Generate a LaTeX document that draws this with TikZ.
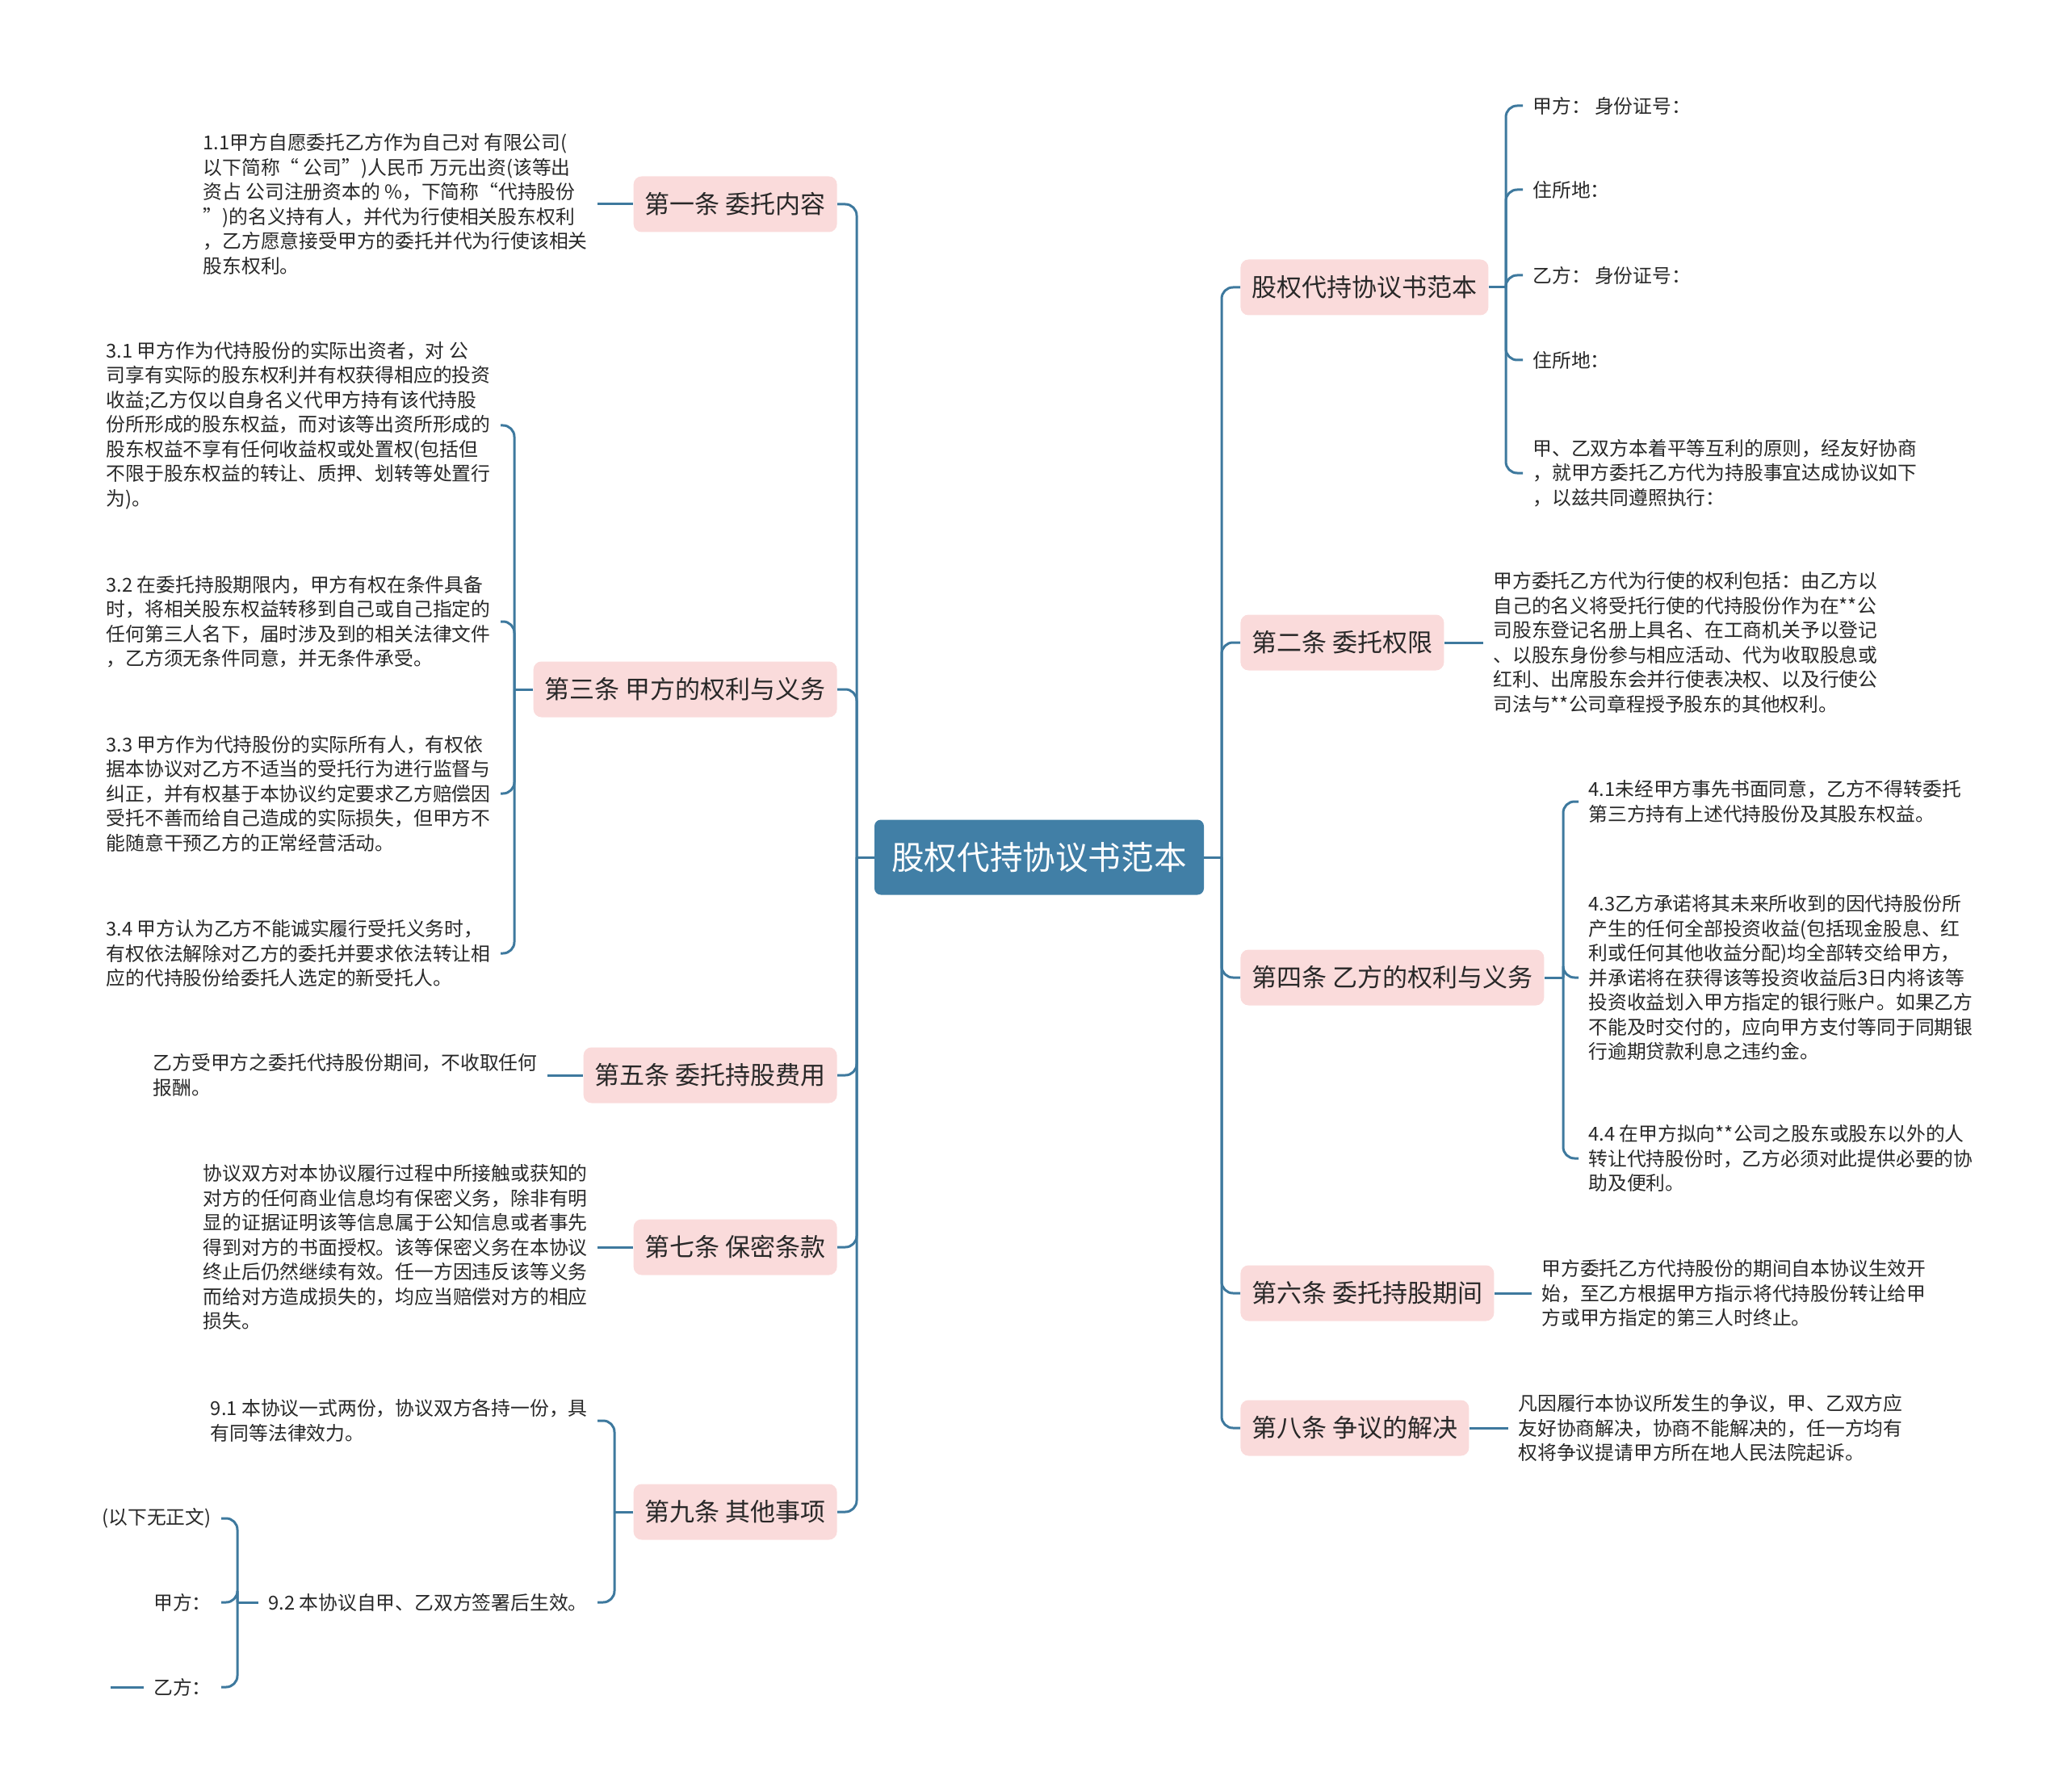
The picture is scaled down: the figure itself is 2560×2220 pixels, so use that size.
\documentclass[tikz,border=0pt]{standalone}
\usepackage{fontspec}
\setmainfont{Noto Sans CJK SC}
\usepackage{tikz}
\usepackage{xcolor}
\definecolor{trunkblue}{RGB}{62,121,158}
\definecolor{rootblue}{RGB}{65,127,166}
\definecolor{topicpink}{RGB}{250,219,219}
\definecolor{leafgray}{RGB}{40,40,40}

\begin{document}
\begin{tikzpicture}[
  x=0.5pt, y=-0.5pt,
  every node/.style={text=leafgray},
  rootbox/.style={fill=rootblue, text=white, rounded corners=4pt, minimum width=204pt,
                  minimum height=46.5pt, font=\fontsize{20.3}{24}\selectfont},
  topicbox/.style={fill=topicpink, rounded corners=5pt, minimum height=34.5pt, inner xsep=7pt,
                   font=\fontsize{15.5}{18}\selectfont},
  topicL/.style={topicbox, anchor=east},
  topicR/.style={topicbox, anchor=west},
  leaftext/.style={align=left, inner xsep=6pt, inner ysep=2pt, font=\fontsize{11.9}{15.25}\selectfont},
  leafL/.style={leaftext, anchor=east},
  leafR/.style={leaftext, anchor=west},
  conn/.style={draw=trunkblue, line width=1.5pt, rounded corners=7pt}
]
\useasboundingbox (0,0) rectangle (2560,2220);

%% Root
\node[rootbox] (root) at (1287,1062) {股权代持协议书范本};
\coordinate (lj) at (1061,1062);
\coordinate (rj) at (1513,1062);
\draw[conn] (root.west) -- (lj);
\draw[conn] (root.east) -- (rj);

%% Left topics
\node[topicL] (b1) at (1037,253) {第一条 委托内容};
\node[topicL] (b3) at (1037,854) {第三条 甲方的权利与义务};
\node[topicL] (b5) at (1037,1332) {第五条 委托持股费用};
\node[topicL] (b7) at (1037,1545) {第七条 保密条款};
\node[topicL] (b9) at (1037,1873) {第九条 其他事项};
\draw[conn] (b1.east) -| (lj);
\draw[conn] (b3.east) -| (lj);
\draw[conn] (b5.east) -| (lj);
\draw[conn] (b7.east) -| (lj);
\draw[conn] (b9.east) -| (lj);

%% Right topics
\node[topicR] (r0) at (1536,356) {股权代持协议书范本};
\node[topicR] (b2) at (1536,796) {第二条 委托权限};
\node[topicR] (b4) at (1536,1211) {第四条 乙方的权利与义务};
\node[topicR] (b6) at (1536,1602) {第六条 委托持股期间};
\node[topicR] (b8) at (1536,1769) {第八条 争议的解决};
\draw[conn] (r0.west) -| (rj);
\draw[conn] (b2.west) -| (rj);
\draw[conn] (b4.west) -| (rj);
\draw[conn] (b6.west) -| (rj);
\draw[conn] (b8.west) -| (rj);

%% 第一条
\node[leafL] (l11) at (740,253) {1.1甲方自愿委托乙方作为自己对 有限公司(\\
以下简称“ 公司”)人民币 万元出资(该等出\\
资占 公司注册资本的 \%，下简称“代持股份\\
”)的名义持有人，并代为行使相关股东权利\\
，乙方愿意接受甲方的委托并代为行使该相关\\
股东权利。};
\draw[conn] (l11.east) -- (b1.west);

%% 第三条
\coordinate (j3) at (637,854);
\draw[conn] (b3.west) -- (j3);
\node[leafL] (l31) at (620,527) {3.1 甲方作为代持股份的实际出资者，对 公\\
司享有实际的股东权利并有权获得相应的投资\\
收益;乙方仅以自身名义代甲方持有该代持股\\
份所形成的股东权益，而对该等出资所形成的\\
股东权益不享有任何收益权或处置权(包括但\\
不限于股东权益的转让、质押、划转等处置行\\
为)。};
\node[leafL] (l32) at (620,770) {3.2 在委托持股期限内，甲方有权在条件具备\\
时，将相关股东权益转移到自己或自己指定的\\
任何第三人名下，届时涉及到的相关法律文件\\
，乙方须无条件同意，并无条件承受。};
\node[leafL] (l33) at (620,983) {3.3 甲方作为代持股份的实际所有人，有权依\\
据本协议对乙方不适当的受托行为进行监督与\\
纠正，并有权基于本协议约定要求乙方赔偿因\\
受托不善而给自己造成的实际损失，但甲方不\\
能随意干预乙方的正常经营活动。};
\node[leafL] (l34) at (620,1181) {3.4 甲方认为乙方不能诚实履行受托义务时，\\
有权依法解除对乙方的委托并要求依法转让相\\
应的代持股份给委托人选定的新受托人。};
\draw[conn] (l31.east) -| (j3);
\draw[conn] (l32.east) -| (j3);
\draw[conn] (l33.east) -| (j3);
\draw[conn] (l34.east) -| (j3);

%% 第五条
\node[leafL] (l5) at (678,1332) {乙方受甲方之委托代持股份期间，不收取任何\\
报酬。};
\draw[conn] (l5.east) -- (b5.west);

%% 第七条
\node[leafL] (l7) at (740,1545) {协议双方对本协议履行过程中所接触或获知的\\
对方的任何商业信息均有保密义务，除非有明\\
显的证据证明该等信息属于公知信息或者事先\\
得到对方的书面授权。该等保密义务在本协议\\
终止后仍然继续有效。任一方因违反该等义务\\
而给对方造成损失的，均应当赔偿对方的相应\\
损失。};
\draw[conn] (l7.east) -- (b7.west);

%% 第九条
\coordinate (j9) at (761,1873);
\draw[conn] (b9.west) -- (j9);
\node[leafL] (l91) at (740,1760) {9.1 本协议一式两份，协议双方各持一份，具\\
有同等法律效力。};
\node[leafL] (l92) at (740,1985) {9.2 本协议自甲、乙双方签署后生效。};
\draw[conn] (l91.east) -| (j9);
\draw[conn] (l92.east) -| (j9);

\coordinate (j92) at (294,1985);
\draw[conn] (l92.west) -- (j92);
\node[leafL] (n1) at (274,1881) {(以下无正文)};
\node[leafL] (n2) at (274,1985) {甲方：};
\node[leafL] (n3) at (274,2090) {乙方：};
\draw[conn] (n1.east) -| (j92);
\draw[conn] (n2.east) -| (j92);
\draw[conn] (n3.east) -| (j92);
\coordinate (n3end) at (137,2090);
\draw[conn] (n3.west) -- (n3end);

%% 股权代持协议书范本 (right)
\coordinate (jr0) at (1865,356);
\draw[conn] (r0.east) -- (jr0);
\node[leafR] (r01) at (1886,131) {甲方： 身份证号：};
\node[leafR] (r02) at (1886,235) {住所地：};
\node[leafR] (r03) at (1886,341) {乙方： 身份证号：};
\node[leafR] (r04) at (1886,446) {住所地：};
\node[leafR] (r05) at (1886,586) {甲、乙双方本着平等互利的原则，经友好协商\\
，就甲方委托乙方代为持股事宜达成协议如下\\
，以兹共同遵照执行：};
\draw[conn] (r01.west) -| (jr0);
\draw[conn] (r02.west) -| (jr0);
\draw[conn] (r03.west) -| (jr0);
\draw[conn] (r04.west) -| (jr0);
\draw[conn] (r05.west) -| (jr0);

%% 第二条
\node[leafR] (l2) at (1837,796) {甲方委托乙方代为行使的权利包括：由乙方以\\
自己的名义将受托行使的代持股份作为在**公\\
司股东登记名册上具名、在工商机关予以登记\\
、以股东身份参与相应活动、代为收取股息或\\
红利、出席股东会并行使表决权、以及行使公\\
司法与**公司章程授予股东的其他权利。};
\draw[conn] (b2.east) -- (l2.west);

%% 第四条
\coordinate (j4) at (1936,1211);
\draw[conn] (b4.east) -- (j4);
\node[leafR] (l41) at (1955,993) {4.1未经甲方事先书面同意，乙方不得转委托\\
第三方持有上述代持股份及其股东权益。};
\node[leafR] (l43) at (1955,1211) {4.3乙方承诺将其未来所收到的因代持股份所\\
产生的任何全部投资收益(包括现金股息、红\\
利或任何其他收益分配)均全部转交给甲方，\\
并承诺将在获得该等投资收益后3日内将该等\\
投资收益划入甲方指定的银行账户。如果乙方\\
不能及时交付的，应向甲方支付等同于同期银\\
行逾期贷款利息之违约金。};
\node[leafR] (l44) at (1955,1435) {4.4 在甲方拟向**公司之股东或股东以外的人\\
转让代持股份时，乙方必须对此提供必要的协\\
助及便利。};
\draw[conn] (l41.west) -| (j4);
\draw[conn] (l43.west) -| (j4);
\draw[conn] (l44.west) -| (j4);

%% 第六条
\node[leafR] (l6) at (1897,1602) {甲方委托乙方代持股份的期间自本协议生效开\\
始，至乙方根据甲方指示将代持股份转让给甲\\
方或甲方指定的第三人时终止。};
\draw[conn] (b6.east) -- (l6.west);

%% 第八条
\node[leafR] (l8) at (1868,1769) {凡因履行本协议所发生的争议，甲、乙双方应\\
友好协商解决，协商不能解决的，任一方均有\\
权将争议提请甲方所在地人民法院起诉。};
\draw[conn] (b8.east) -- (l8.west);

\end{tikzpicture}
\end{document}
